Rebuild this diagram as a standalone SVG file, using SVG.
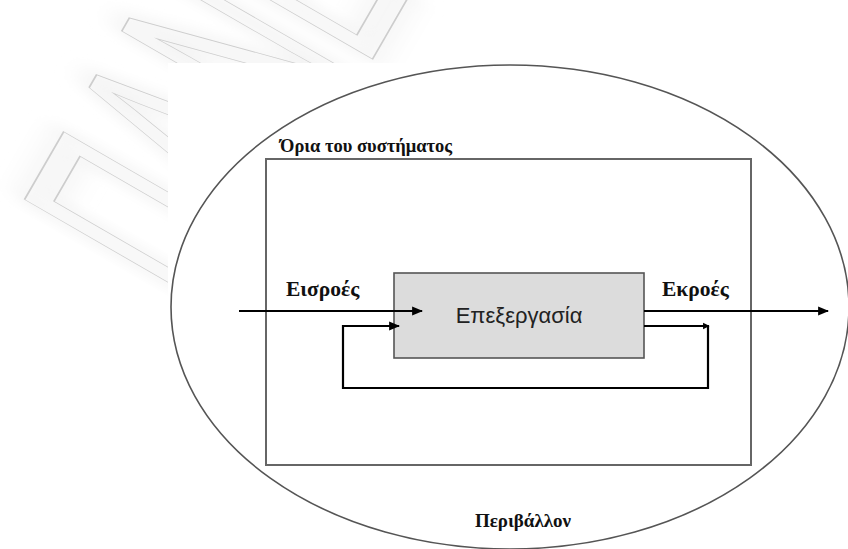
<svg xmlns="http://www.w3.org/2000/svg" width="848" height="549" viewBox="0 0 848 549">
  <style>
    .wm { font-family: "Liberation Sans", Arial, sans-serif; font-size: 140px; fill: none; }
    .wm-halo { stroke: #ececec; stroke-width: 9px; }
    .wm-line { stroke: #cdcdcd; stroke-width: 1.3px; }
    .label { font-family: "Liberation Serif", "Times New Roman", serif; font-weight: bold; fill: #111; }
    .proc-text { font-family: "Liberation Sans", Arial, sans-serif; font-size: 22px; fill: #222; }
    .flow { fill: none; stroke: #000; stroke-width: 2.2; }
  </style>
  <defs>
    <marker id="arrow" viewBox="0 0 10 10" refX="9" refY="5" markerWidth="5" markerHeight="5" orient="auto" markerUnits="strokeWidth">
      <path d="M0,1 L10,5 L0,9 z" fill="#000"/>
    </marker>
    <marker id="tick" viewBox="0 0 10 10" refX="9" refY="5" markerWidth="3" markerHeight="3.5" orient="auto" markerUnits="strokeWidth">
      <path d="M0,0 L10,5 L0,10 z" fill="#000"/>
    </marker>
    <filter id="soft" x="-20%" y="-20%" width="140%" height="140%">
      <feGaussianBlur stdDeviation="6"/>
    </filter>
  </defs>

  <rect width="848" height="549" fill="#fff"/>

  <!-- background watermark lettering -->
  <g id="watermark" transform="translate(219,325) rotate(-60) scale(1,2.4)">
    <text class="wm wm-halo" filter="url(#soft)" vector-effect="non-scaling-stroke" x="0" y="0">ΠΑΝΕ</text>
    <text class="wm wm-line" vector-effect="non-scaling-stroke" x="0" y="0">ΠΑΝΕ</text>
  </g>

  <!-- white sheet the diagram sits on -->
  <rect x="168" y="63" width="680" height="486" fill="#fff"/>

  <!-- environment -->
  <g id="environment">
    <ellipse cx="510" cy="307" rx="339" ry="242" fill="none" stroke="#555" stroke-width="1.6"/>
    <text class="label" x="523" y="527" font-size="19" text-anchor="middle">Περιβάλλον</text>
  </g>

  <!-- system boundary -->
  <g id="system-boundary">
    <rect x="266" y="159" width="485" height="306" fill="none" stroke="#666" stroke-width="2"/>
    <text class="label" x="280" y="152" font-size="18.5">Όρια του συστήματος</text>
  </g>

  <!-- processing block -->
  <g id="processing">
    <rect x="394" y="273" width="250" height="85" fill="#dcdcdc" stroke="#555" stroke-width="1.6"/>
    <text class="proc-text" x="519" y="323" text-anchor="middle">Επεξεργασία</text>
  </g>

  <g id="inputs-label">
    <text class="label" x="286" y="296" font-size="21.5">Εισροές</text>
  </g>
  <g id="outputs-label">
    <text class="label" x="662" y="296" font-size="21.5">Εκροές</text>
  </g>

  <!-- flows -->
  <g id="connectors">
    <line class="flow" x1="239" y1="311" x2="422" y2="311" marker-end="url(#arrow)"/>
    <line class="flow" x1="644" y1="311" x2="828" y2="311" marker-end="url(#arrow)"/>
    <line class="flow" x1="644" y1="326" x2="709" y2="326" marker-end="url(#tick)"/>
    <polyline class="flow" points="708,326 708,388 343,388 343,326 399,326" marker-end="url(#arrow)"/>
  </g>
</svg>
